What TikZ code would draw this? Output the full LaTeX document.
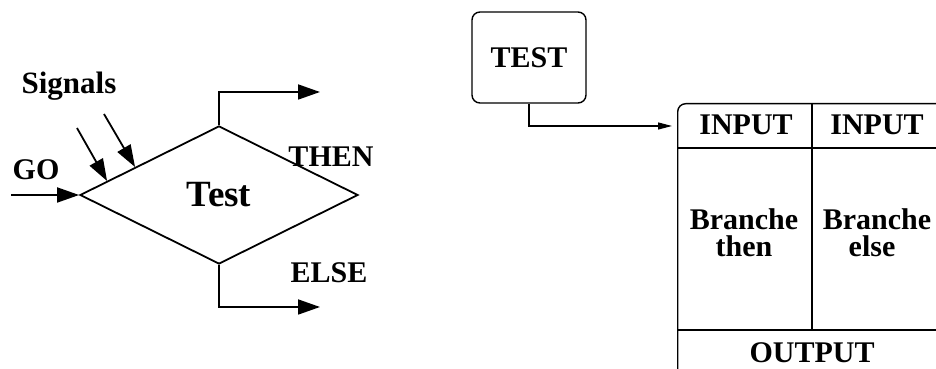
\documentclass[tikz,border=0pt]{standalone}
\usepackage{fontspec}
\setmainfont{Liberation Serif}
\usetikzlibrary{shapes.geometric,arrows.meta,calc}
\tikzset{
  lbl/.style={font=\fontsize{30}{27}\selectfont\bfseries, inner sep=0pt},
  bigarrow/.style={line width=1.8pt, -{Triangle[length=22pt,width=15pt]}},
  smallarrow/.style={line width=1.2pt, -{Triangle[length=14pt,width=7pt]}},
  box/.style={draw, line width=1.4pt},
}
\begin{document}
\begin{tikzpicture}[x=1pt,y=1pt]
\clip (0,0) rectangle (936,369);
% left diagram
\node[diamond, draw, line width=1.8pt, minimum width=278pt, minimum height=138pt, inner sep=0pt,
      font=\fontsize{37}{38}\selectfont\bfseries] (test) at (219,174) {Test};
\coordinate (goin) at (11,174);
\coordinate (s1) at (77,241);
\coordinate (s2) at (104,255);
\coordinate (thenend) at (320,277);
\coordinate (elseend) at (320,62);
\draw[bigarrow] (goin) -- (test.west);
\draw[bigarrow] (s1) -- ($(test.west)!0.2!(test.north)$);
\draw[bigarrow] (s2) -- ($(test.west)!0.4!(test.north)$);
\draw[bigarrow] (test.north) |- (thenend);
\draw[bigarrow] (test.south) |- (elseend);
\node[lbl, font=\fontsize{31}{30}\selectfont\bfseries] (sig) at (69,283) {Signals};
\node[lbl] (go) at (36,199) {GO};
\node[lbl] (thenl) at (331,212) {THEN};
\node[lbl] (elsel) at (329,96) {ELSE};
% right diagram
\node[box, rounded corners=8pt, minimum width=114pt, minimum height=91pt, inner sep=0pt] (TEST) at (529,311.5) {};
\node[lbl] (TESTl) at (TEST.center) {TEST};
\node[box, rounded corners=8pt, anchor=north west, minimum width=270pt, minimum height=275pt, inner sep=0pt] (blk) at (677,266) {};
\coordinate (div) at (812,266);
\draw[box] (div) -- (812,39);
\draw[box] (677,221) -- (947,221);
\draw[box] (677,39) -- (947,39);
\draw[smallarrow] (TEST.south) |- ([xshift=-5pt]blk.west |- 0,243);
\node[lbl] (in1) at (746,244) {INPUT};
\node[lbl] (in2) at (877,244) {INPUT};
\node[lbl, anchor=base] (br1) at (744,139) {Branche};
\node[lbl, anchor=base] (th1) at (744,112) {then};
\node[lbl, anchor=base] (br2) at (877,139) {Branche};
\node[lbl, anchor=base] (el2) at (872,112) {else};
\node[lbl] (out) at (812,16) {OUTPUT};
\end{tikzpicture}
\end{document}
